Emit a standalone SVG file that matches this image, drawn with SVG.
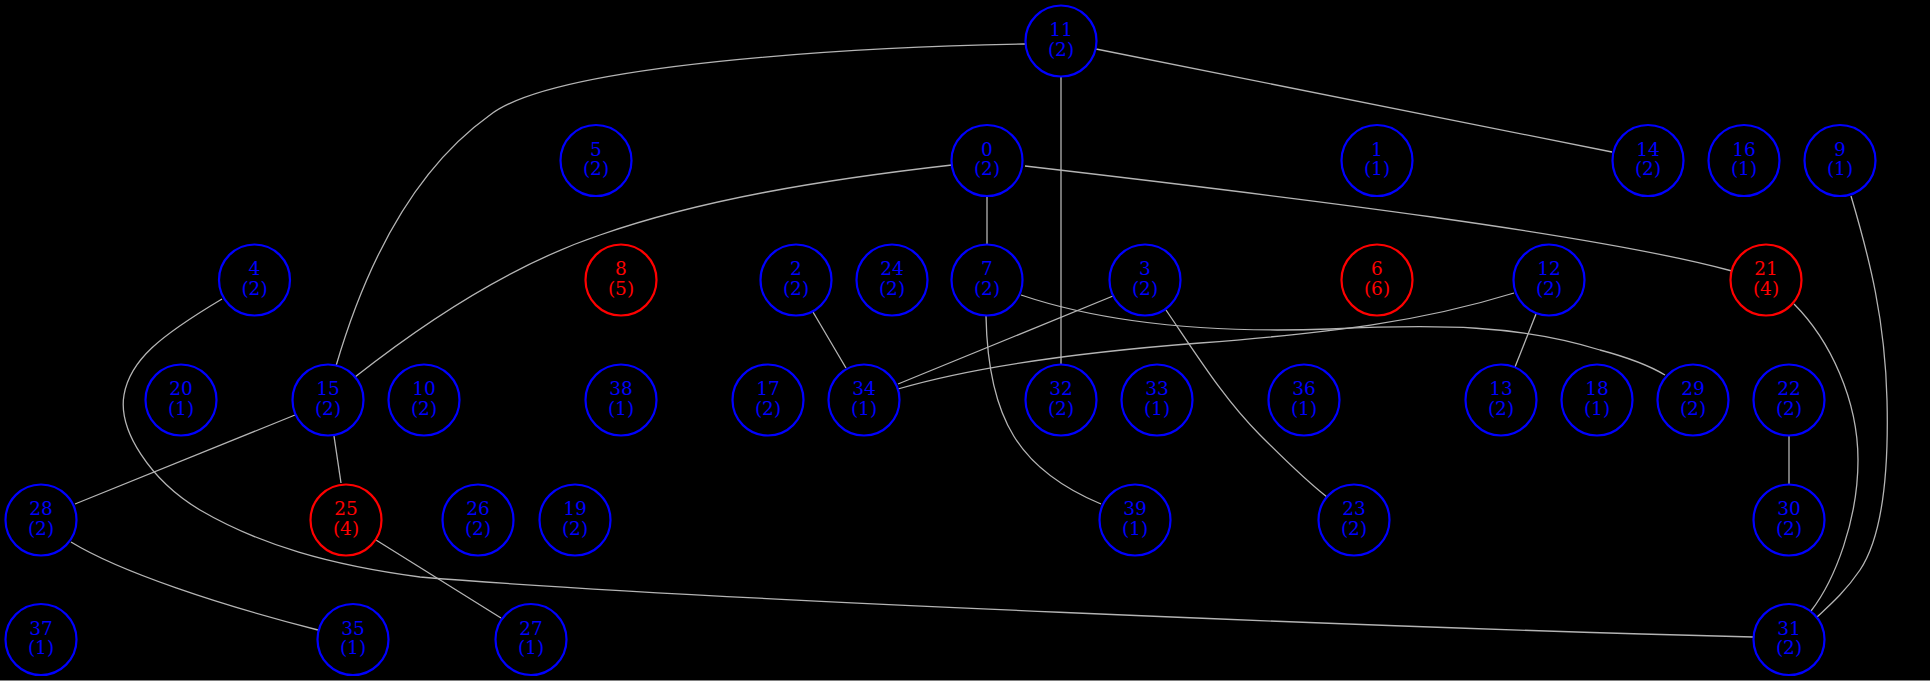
<svg xmlns="http://www.w3.org/2000/svg" width="1930" height="681" viewBox="0 0 1930 681">
<style>
.n circle{fill:none;stroke-width:2.2}
.b circle{stroke:#0000ff}
.r circle{stroke:#ff0000}
.n text{font-family:"DejaVu Serif","Liberation Serif",serif;font-size:18.5px;text-anchor:middle}
.b text{fill:#0000ff}
.r text{fill:#ff0000}
#edges path{fill:none;stroke:#b4b4b4;stroke-width:1.3}
</style>
<rect x="0" y="0" width="1930" height="681" fill="#000000"/>
<line x1="0" y1="680.5" x2="1930" y2="680.5" stroke="#808080" stroke-width="1"/>
<g id="edges">
<path d="M1025,44 C900,46 560,60 490,115 C420,165 370,250 336,366"/>
<path d="M1096,49 L1612,152"/>
<path d="M1061,77 L1061,364"/>
<path d="M952,165 C820,180 700,200 600,235 C520,262 440,310 355,377"/>
<path d="M987,197 L987,244"/>
<path d="M1025,166 C1300,198 1600,235 1732,271"/>
<path d="M222,299 C160,336 130,360 124,395 C118,430 150,480 200,510 C260,545 330,565 420,577 C700,600 1400,628 1753,637"/>
<path d="M813,312 L846,368"/>
<path d="M1021,295 C1110,325 1220,333 1330,329 C1440,324 1520,325 1600,350 C1630,358 1650,366 1665,375"/>
<path d="M986,316 C988,420 1020,470 1101,504"/>
<path d="M1113,296 L898,384"/>
<path d="M1166,310 C1200,360 1225,400 1260,435 C1280,455 1305,480 1327,497"/>
<path d="M1514,293 C1420,322 1330,333 1200,343 C1070,353 970,368 898,389"/>
<path d="M1536,314 L1515,367"/>
<path d="M1794,304 C1830,340 1858,400 1858,460 C1858,520 1835,580 1811,611"/>
<path d="M1851,196 C1870,260 1885,320 1887,400 C1889,480 1880,540 1860,570 C1845,592 1830,605 1817,617"/>
<path d="M295,415 L75,504"/>
<path d="M334,436 L341,483"/>
<path d="M71,542 C120,572 220,605 318,630"/>
<path d="M376,540 L501,618"/>
<path d="M1789,436 L1789,484"/>
</g>
<g id="node11" class="n b"><circle cx="1061" cy="41" r="35.5"/><text x="1061" y="36">11</text><text x="1061" y="55.5">(2)</text></g>
<g id="node5" class="n b"><circle cx="596" cy="160.5" r="35.5"/><text x="596" y="155.5">5</text><text x="596" y="175">(2)</text></g>
<g id="node0" class="n b"><circle cx="987" cy="160.5" r="35.5"/><text x="987" y="155.5">0</text><text x="987" y="175">(2)</text></g>
<g id="node1" class="n b"><circle cx="1377" cy="160.5" r="35.5"/><text x="1377" y="155.5">1</text><text x="1377" y="175">(1)</text></g>
<g id="node14" class="n b"><circle cx="1648" cy="160.5" r="35.5"/><text x="1648" y="155.5">14</text><text x="1648" y="175">(2)</text></g>
<g id="node16" class="n b"><circle cx="1744" cy="160.5" r="35.5"/><text x="1744" y="155.5">16</text><text x="1744" y="175">(1)</text></g>
<g id="node9" class="n b"><circle cx="1840" cy="160.5" r="35.5"/><text x="1840" y="155.5">9</text><text x="1840" y="175">(1)</text></g>
<g id="node4" class="n b"><circle cx="254.5" cy="280" r="35.5"/><text x="254.5" y="275">4</text><text x="254.5" y="294.5">(2)</text></g>
<g id="node8" class="n r"><circle cx="621" cy="280" r="35.5"/><text x="621" y="275">8</text><text x="621" y="294.5">(5)</text></g>
<g id="node2" class="n b"><circle cx="796" cy="280" r="35.5"/><text x="796" y="275">2</text><text x="796" y="294.5">(2)</text></g>
<g id="node24" class="n b"><circle cx="892" cy="280" r="35.5"/><text x="892" y="275">24</text><text x="892" y="294.5">(2)</text></g>
<g id="node7" class="n b"><circle cx="987" cy="280" r="35.5"/><text x="987" y="275">7</text><text x="987" y="294.5">(2)</text></g>
<g id="node3" class="n b"><circle cx="1145" cy="280" r="35.5"/><text x="1145" y="275">3</text><text x="1145" y="294.5">(2)</text></g>
<g id="node6" class="n r"><circle cx="1377" cy="280" r="35.5"/><text x="1377" y="275">6</text><text x="1377" y="294.5">(6)</text></g>
<g id="node12" class="n b"><circle cx="1549" cy="280" r="35.5"/><text x="1549" y="275">12</text><text x="1549" y="294.5">(2)</text></g>
<g id="node21" class="n r"><circle cx="1766" cy="280" r="35.5"/><text x="1766" y="275">21</text><text x="1766" y="294.5">(4)</text></g>
<g id="node20" class="n b"><circle cx="181" cy="400" r="35.5"/><text x="181" y="395">20</text><text x="181" y="414.5">(1)</text></g>
<g id="node15" class="n b"><circle cx="328" cy="400" r="35.5"/><text x="328" y="395">15</text><text x="328" y="414.5">(2)</text></g>
<g id="node10" class="n b"><circle cx="424" cy="400" r="35.5"/><text x="424" y="395">10</text><text x="424" y="414.5">(2)</text></g>
<g id="node38" class="n b"><circle cx="621" cy="400" r="35.5"/><text x="621" y="395">38</text><text x="621" y="414.5">(1)</text></g>
<g id="node17" class="n b"><circle cx="768" cy="400" r="35.5"/><text x="768" y="395">17</text><text x="768" y="414.5">(2)</text></g>
<g id="node34" class="n b"><circle cx="864" cy="400" r="35.5"/><text x="864" y="395">34</text><text x="864" y="414.5">(1)</text></g>
<g id="node32" class="n b"><circle cx="1061" cy="400" r="35.5"/><text x="1061" y="395">32</text><text x="1061" y="414.5">(2)</text></g>
<g id="node33" class="n b"><circle cx="1157" cy="400" r="35.5"/><text x="1157" y="395">33</text><text x="1157" y="414.5">(1)</text></g>
<g id="node36" class="n b"><circle cx="1304" cy="400" r="35.5"/><text x="1304" y="395">36</text><text x="1304" y="414.5">(1)</text></g>
<g id="node13" class="n b"><circle cx="1501" cy="400" r="35.5"/><text x="1501" y="395">13</text><text x="1501" y="414.5">(2)</text></g>
<g id="node18" class="n b"><circle cx="1597" cy="400" r="35.5"/><text x="1597" y="395">18</text><text x="1597" y="414.5">(1)</text></g>
<g id="node29" class="n b"><circle cx="1693" cy="400" r="35.5"/><text x="1693" y="395">29</text><text x="1693" y="414.5">(2)</text></g>
<g id="node22" class="n b"><circle cx="1789" cy="400" r="35.5"/><text x="1789" y="395">22</text><text x="1789" y="414.5">(2)</text></g>
<g id="node28" class="n b"><circle cx="41" cy="520" r="35.5"/><text x="41" y="515">28</text><text x="41" y="534.5">(2)</text></g>
<g id="node25" class="n r"><circle cx="346" cy="520" r="35.5"/><text x="346" y="515">25</text><text x="346" y="534.5">(4)</text></g>
<g id="node26" class="n b"><circle cx="478" cy="520" r="35.5"/><text x="478" y="515">26</text><text x="478" y="534.5">(2)</text></g>
<g id="node19" class="n b"><circle cx="575" cy="520" r="35.5"/><text x="575" y="515">19</text><text x="575" y="534.5">(2)</text></g>
<g id="node39" class="n b"><circle cx="1135" cy="520" r="35.5"/><text x="1135" y="515">39</text><text x="1135" y="534.5">(1)</text></g>
<g id="node23" class="n b"><circle cx="1354" cy="520" r="35.5"/><text x="1354" y="515">23</text><text x="1354" y="534.5">(2)</text></g>
<g id="node30" class="n b"><circle cx="1789" cy="520" r="35.5"/><text x="1789" y="515">30</text><text x="1789" y="534.5">(2)</text></g>
<g id="node37" class="n b"><circle cx="41" cy="639.5" r="35.5"/><text x="41" y="634.5">37</text><text x="41" y="654">(1)</text></g>
<g id="node35" class="n b"><circle cx="353" cy="639.5" r="35.5"/><text x="353" y="634.5">35</text><text x="353" y="654">(1)</text></g>
<g id="node27" class="n b"><circle cx="531" cy="639.5" r="35.5"/><text x="531" y="634.5">27</text><text x="531" y="654">(1)</text></g>
<g id="node31" class="n b"><circle cx="1789" cy="639.5" r="35.5"/><text x="1789" y="634.5">31</text><text x="1789" y="654">(2)</text></g>
</svg>
